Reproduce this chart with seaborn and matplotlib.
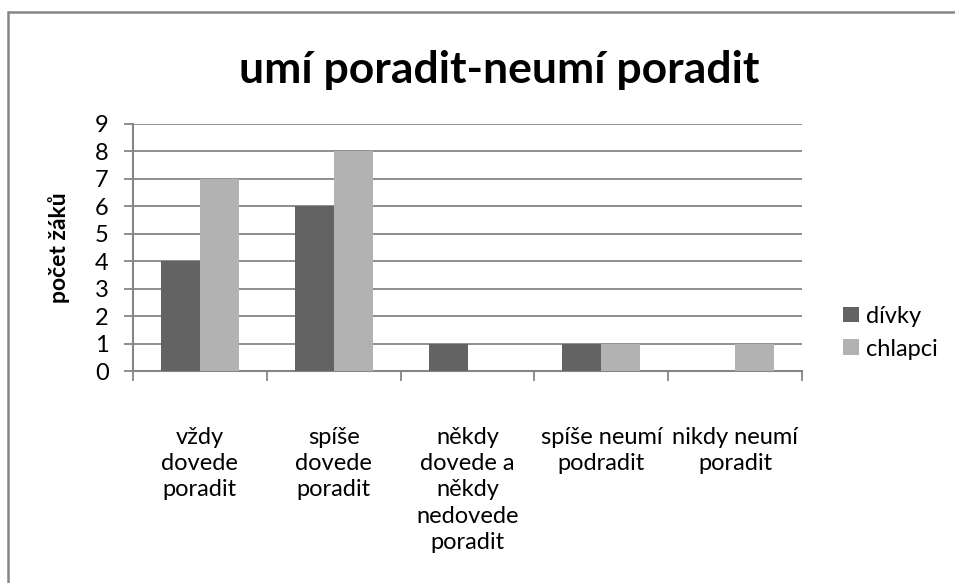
import matplotlib
matplotlib.use("Agg")
import matplotlib.pyplot as plt
import seaborn as sns
import pandas as pd
from matplotlib.patches import Rectangle

categories = ["vždy\ndovede\nporadit", "spíše\ndovede\nporadit",
              "někdy\ndovede a\nněkdy\nnedovede\nporadit",
              "spíše neumí\npodradit", "nikdy neumí\nporadit"]
divky = [4, 6, 1, 1, 0]
chlapci = [7, 8, 0, 1, 1]
series_names = ["dívky", "chlapci"]
y_ticks = list(range(0, 10))

df = pd.DataFrame({
    "kategorie": categories * 2,
    "skupina": [series_names[0]] * len(categories) + [series_names[1]] * len(categories),
    "pocet": divky + chlapci,
})

sns.set_theme(style="white")
plt.rcParams["font.family"] = ["Lato", "DejaVu Sans"]
plt.rcParams["text.color"] = "black"
plt.rcParams["xtick.color"] = "black"
plt.rcParams["ytick.color"] = "black"
plt.rcParams["axes.labelcolor"] = "black"

grid_c = "#868686"
fig = plt.figure(figsize=(9.55, 5.83), dpi=100)
ax = fig.add_axes([133 / 955, 1 - 371 / 583, (802 - 133) / 955, (371 - 124) / 583])

sns.barplot(data=df, x="kategorie", y="pocet", hue="skupina", order=categories,
            hue_order=series_names, palette=["#636363", "#b2b2b2"],
            width=0.58, gap=0, saturation=1, linewidth=0, ax=ax, zorder=3)

ax.set_ylim(0, 9)
ax.set_xlim(-0.5, len(categories) - 0.5)
ax.set_yticks(y_ticks)
ax.yaxis.grid(True, color=grid_c, linewidth=1.3, zorder=0)
ax.set_axisbelow(True)
for s in ["top", "right"]:
    ax.spines[s].set_visible(False)
for s in ["left", "bottom"]:
    ax.spines[s].set_color(grid_c)
    ax.spines[s].set_linewidth(1.5)

ax.tick_params(axis="y", which="major", direction="out", length=6.5, width=1.3,
               color=grid_c, labelcolor="black", labelsize=17, pad=11, left=True)
ax.set_xticks(range(len(categories)))
ax.set_xticklabels(categories, fontsize=17, va="top")
for lbl in ax.get_xticklabels():
    lbl.set_linespacing(1.32)
ax.tick_params(axis="x", which="major", length=0, pad=40, labelcolor="black")
ax.set_xticks([i - 0.5 for i in range(len(categories) + 1)], minor=True)
ax.tick_params(axis="x", which="minor", direction="out", length=7, width=1.3,
               color=grid_c, bottom=True)

ax.set_xlabel("")
ax.set_ylabel("počet žáků", fontsize=16.5, fontweight="bold", labelpad=18)

handles, labels = ax.get_legend_handles_labels()
ax.legend(handles, labels, loc="center left", bbox_to_anchor=(1.03, 0.155), frameon=False,
          fontsize=17, handlelength=0.65, handleheight=0.65, handletextpad=0.3,
          labelspacing=0.5)

fig.suptitle("umí poradit-neumí poradit", x=499 / 955, y=1 - 70 / 583, va="center",
             fontsize=32, fontweight="bold", color="black")

fig.patches.append(Rectangle((8 / 955, -0.1), 1.2, 1 - 12 / 583 + 0.1,
                             transform=fig.transFigure, fill=False,
                             edgecolor=grid_c, linewidth=1.8, zorder=10))

fig.savefig("out.png", dpi=100)
